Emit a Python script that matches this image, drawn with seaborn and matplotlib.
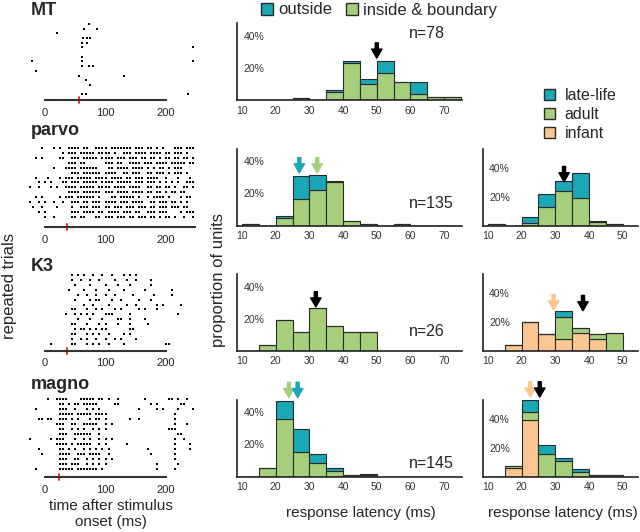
import numpy as np
import pandas as pd
import seaborn as sns
import matplotlib.pyplot as plt
from matplotlib.patches import Patch

# ---------------- raster data (rows listed top to bottom) ----------------
# MT: spike times (ms) per trial
mt_trials = [[73], [65, 86], [20], [63, 70, 74], [61, 69], [61, 245], [], [61],
             [-21, 61, 245], [61, 73, 80], [-15], [56, 131], [67], [75], [],
             [61, 67, 237]]
# parvo / magno: one char per 5 ms bin starting at -25 ms, "x" = spike
parvo_trials = [
    "....x...x. x..xxxx.xx ..xxxx.xxx xxxx.xxx.x x.x.x...xx x.xxx",
    ".......... .x.xxx.xxx xx.xxxx.x. .xxx.xxxx. xxxx.xx.xx x.x..",
    "..x.x..... xx..xxx.xx xxx.xxxx.x xx.xxx.xx. xx.x.xx.xx .xx.x",
    ".......... ...xxx.xx. .....xxx.x x..xxxx.xx x.xxxx.xxx xx.xx",
    "........x. ..xxxx.xxx xxx...xx.x xxx.xxxx.x .x.xx.x.xx x....",
    ".......... ....xxx.xx xxxx.xxxx. .xx.xxx..x x.xxx.x.xx x.x..",
    "..x...x... x.xxx.xxxx x.xxxx.xxx x.xx.xxx.x xxx..x...x ...x.",
    "...x.x.x.. .xx.xxx.xx xxx.xxxx.x xxxx.xxx.x xx.x.x.x.x ..xxx",
    "x..x...x.x ..xxxx.xxx xx.xxxx.xx xx.xxxx..x x.xx.xx.x. .xx.x",
    ".......... ...xxxx.xx xxxx.xxx.x xxx.xxxx.x x.xx.x.xx. xx...",
    "..x.x..... x.xxx.xxxx xx.x...xx. xxxxx.x..x .xxxx.x... x.xx.",
    "x..x.x..x. .x..xxx.xx .xxx.xxxx. xxx.xxxx.. xx.xxx.xx. x.x..",
    ".x..x....x ....x..xxx .xxx.xx.xx x.xxx.xxx. xx.xxx.xxx .xx..",
    "...x.x.... ....xxx.xx xx.xx.xxxx .xxx.xx..x xx.xxx.... x.xxx",
    ".....x..x. ....xx.xx. ..xx.xxx.x xx.xx.xxx. xx.x.xx.x. .x..x",
]
k3_trials = [[45, 55, 65, 80, 95, 110, 130, 140, 150],
             [45, 60, 75, 90, 115, 135, 150, 175],
             [50, 75, 100, 120, 140, 175],
             [40, 65, 85, 105, 130, 165, 210],
             [55, 70, 85, 100, 115, 145, 180, 210],
             [50, 75, 85, 90, 110, 125, 155, 175],
             [65, 80, 105, 135, 150, 185, 195, 225],
             [45, 50, 70, 85, 95, 115, 125, 155, 165, 185],
             [35, 50, 60, 70, 80, 100, 105, 110, 140, 220],
             [55, 75, 95, 120, 125, 140, 165],
             [45, 50, 70, 90, 100, 120, 140, 170],
             [50, 60, 65, 75, 85, 95, 100, 140, 145],
             [45, 50, 70, 80, 90, 105, 130, 140],
             [45, 60, 70, 85, 100, 115, 125, 150],
             [10, 45, 50, 70, 80, 90, 105, 130, 200, 205]]
magno_trials = [
    "......x..x xxx....xxx xx.xx.x..x ........x. ......xx.x ..x..",
    ".......... xx.x.xx.xx xxx.....xx .......... x.x....... xx...",
    "..x....... xxx..x...x .x.x...... ......x... ..x.x....x ....x",
    ".......... xxxxx.xxxx x.xxxx.... .......... ........x. .....",
    "...xx.xx.. xxx.x.x... x.xx.x.... ...x..x... ........x. .....",
    ".........x xx..xx..xx xxx..x.x.. .......... ........x. ..x..",
    ".......... xx..x.x.x. .x.x.x.... .......... ......xxx. .....",
    ".......... xxx..xxxxx x..x...... .......... .........x x....",
    "x......x.x xx...x..x. x..x.x.x.. .......... ........x. .x...",
    ".........x xxx.x.xxxx x..x.x.... ..x....... ........x. ...x.",
    "...x...... xx.x.x..x. x.x.x.x... .........x ........x. ...x.",
    "....x..... xxxx..xxx. xxxx..x... .......... x.......x. .....",
    ".......... xxx..xx..x .x.x.x.x.. .......... ........x. .....",
    ".......... xxx.xxx..x .x.x.x.... .......... ..x......x .....",
    "..x....... xxxxx.xxxx xxx.x..... .......... ..x.....x. .....",
]
latency = {"MT": 56, "parvo": 36, "K3": 36, "magno": 24}

# ---------------- histogram data (% of units per 5 ms bin) ----------------
bins_wide = [10, 15, 20, 25, 30, 35, 40, 45, 50, 55, 60, 65, 70]
mt_inside = [0, 0, 0, 1.1, 0, 4.8, 22.9, 9.8, 16.7, 11.5, 3.5, 2.1, 2.1]
mt_outside = [0, 0, 0, 0, 0, 1.45, 1.5, 3.1, 7.7, 0, 8.0, 0, 0]
parvo_inside = [0.7, 0, 4.5, 16.5, 22.4, 27.2, 2.5, 0.7, 0, 0.7, 0, 0, 0]
parvo_outside = [0, 0, 1.7, 14.4, 9.3, 0.8, 0.6, 0, 0, 0, 0, 0, 0]
k3_inside = [0, 3.85, 19.2, 11.5, 26.9, 15.4, 11.5, 11.5, 0, 0, 0, 0, 0]
k3_outside = [0] * 13
magno_inside = [0, 5.1, 36, 15, 8.6, 3.7, 0.7, 0.7, 0, 0, 0, 0, 0]
magno_outside = [0, 0, 11.3, 14.4, 5.2, 1.4, 0, 0.7, 0, 0, 0, 0, 0]

bins_age = [10, 15, 20, 25, 30, 35, 40, 45]
parvo_infant = [0, 0, 0, 0, 0, 0, 0, 0]
parvo_adult = [0.7, 0, 1.6, 12.7, 24.1, 19, 2.1, 0.7]
parvo_late = [0, 0, 4.65, 9.3, 6.5, 17.6, 0.7, 0]
k3_infant = [0, 3.9, 19.7, 11.6, 7.9, 12, 7.9, 0]
k3_adult = [0, 0, 0, 0, 15.7, 3.5, 3.7, 12]
k3_late = [0, 0, 0, 0, 4.2, 0, 0, 0]
magno_infant = [0, 5.8, 39.4, 0, 0, 0, 0, 0]
magno_adult = [0, 1.4, 5.3, 15.7, 11.1, 3.0, 0.7, 0.7]
magno_late = [0, 0, 8.6, 6.5, 1.6, 2.3, 0, 0]

n_units = {"MT": 78, "parvo": 135, "K3": 26, "magno": 145}

TEAL = "#1aa7b6"
GREEN = "#a6cf7c"
ORANGE = "#fbc690"
EDGE = "#2a2a2a"

# median-latency arrows: (latency ms, tip height %, colour)
arrows_wide = {"MT": [(50, 26.1, "black")],
               "parvo": [(27, 32.8, TEAL), (32.3, 32.8, GREEN)],
               "K3": [(31.9, 27.3, "black")],
               "magno": [(23.9, 49.2, GREEN), (26.5, 49.2, TEAL)]}
arrows_age = {"parvo": [(32.6, 30.4, "black")],
              "K3": [(29.5, 28.3, ORANGE), (38.2, 27.8, "black")],
              "magno": [(22.6, 55.2, ORANGE), (25.4, 55.2, "black")]}

sns.set_style("white")
plt.rcParams["font.family"] = ["Liberation Sans", "DejaVu Sans"]

W, HF = 640, 532
fig = plt.figure(figsize=(W / 100, HF / 100), dpi=100)


def px_axes(x0, x1, ybot, h):
    return fig.add_axes([x0 / W, 1 - ybot / HF, (x1 - x0) / W, h / HF])


def spike_times(row):
    if isinstance(row, str):
        row = row.replace(" ", "")
        return [-25 + 5 * i for i, c in enumerate(row) if c == "x"]
    return row


def raster(name, trials, spine_y, spacing, offset, end):
    ax = px_axes(28, 200, spine_y, 84)
    n = len(trials)
    recs = []
    for k, row in enumerate(trials):
        for t in spike_times(row):
            recs.append((t, n - 1 - k))
    df = pd.DataFrame(recs, columns=["time", "trial"])
    sns.scatterplot(df, x="time", y="trial", color="black", marker="s", s=2.0,
                    linewidth=0, ax=ax)
    ax.set_xlim(-28, 256)
    ax.set_ylim(-offset, -offset + 84 / spacing)
    ax.set(xlabel="", ylabel="", yticks=[])
    for s in ["left", "top", "right"]:
        ax.spines[s].set_visible(False)
    ax.spines["bottom"].set_bounds(0, end)
    ax.spines["bottom"].set_color("#333333")
    ax.spines["bottom"].set_linewidth(1.5)
    ax.set_xticks([0, 100, 200])
    ax.tick_params(axis="x", direction="inout", length=6, width=1.3,
                   labelsize=8, pad=2.5, colors="#222222")
    ax.axvline(latency[name], ymin=-0.035, ymax=0.035, color="#e8302a",
               lw=1.4, clip_on=False)
    ax.patch.set_alpha(0)
    return ax


def hist(x0, x1, ybot, lefts, groups, colors, bin_end, xmax, ymax, arrows):
    ax = px_axes(x0, x1, ybot, 77)
    frames = [pd.DataFrame({"latency": np.array(lefts) + 2.5, "pct": vals,
                            "group": g}) for g, vals in groups.items()]
    df = pd.concat(frames, ignore_index=True)
    order = list(groups.keys())
    sns.histplot(df, x="latency", weights="pct", hue="group", hue_order=order,
                 multiple="stack", bins=list(range(10, bin_end + 1, 5)),
                 palette=dict(zip(order, colors)), alpha=1, edgecolor=EDGE,
                 linewidth=0.8, legend=False, ax=ax)
    ax.set_xlim(8.5, xmax)
    ax.set_ylim(0, ymax)
    ax.set(xlabel="", ylabel="")
    sns.despine(ax=ax)
    for s in ["left", "bottom"]:
        ax.spines[s].set_color("#222222")
        ax.spines[s].set_linewidth(1.2)
    ax.set_xticks(range(10, bin_end, 10) if bin_end > 50 else range(10, 51, 10))
    ax.set_xticks(range(15, bin_end + 1, 10), minor=True)
    ax.tick_params(axis="x", which="both", direction="inout", length=5,
                   width=1, labelsize=7.5, pad=1.5, colors="#333333")
    ax.set_yticks([20, 40])
    ax.set_yticks([10, 30], minor=True)
    ax.set_yticklabels(["20%", "40%"])
    ax.tick_params(axis="y", which="both", direction="in", length=3.5,
                   width=1, labelsize=7.5, pad=-4.5, colors="#333333")
    for t in ax.get_yticklabels():
        t.set_horizontalalignment("left")
    for x, tip, c in arrows:
        ax.annotate("", xy=(x, tip), xytext=(0, 11), textcoords="offset points",
                    annotation_clip=False,
                    arrowprops=dict(color=c, width=2.2, headwidth=7.5,
                                    headlength=6.5, shrink=0))
    ax.patch.set_alpha(0)
    return ax


names = ["MT", "parvo", "K3", "magno"]
trials = [mt_trials, parvo_trials, k3_trials, magno_trials]
raster_layout = [(100, 4.69, 1.22, 200), (227, 4.93, 2.03, 248),
                 (350.7, 4.93, 1.36, 200), (477.3, 5.0, 1.6, 200)]
wide = [(mt_outside, mt_inside), (parvo_outside, parvo_inside),
        (k3_outside, k3_inside), (magno_outside, magno_inside)]
age = [None, (parvo_late, parvo_adult, parvo_infant),
       (k3_late, k3_adult, k3_infant), (magno_late, magno_adult, magno_infant)]
base = [100, 225.5, 350.7, 476.5]
label_base = [15, 135, 271, 389]
n_pos = [41.6, 14, 11.8, 7.8]

for i, name in enumerate(names):
    spine_y, sp, off, end = raster_layout[i]
    raster(name, trials[i], spine_y, sp, off, end)
    fig.text(31 / W, 1 - label_base[i] / HF, name, fontsize=13,
             fontweight="bold", va="baseline", ha="left")

    out, ins = wide[i]
    ax = hist(237, 462, base[i], bins_wide,
              {"outside": out, "inside & boundary": ins}, [TEAL, GREEN],
              75, 75.3, 48, arrows_wide[name])
    ax.text(59.6, n_pos[i], f"n={n_units[name]}", fontsize=11.5, va="center")

    if age[i] is not None:
        late, adult, infant = age[i]
        hist(482.7, 638, base[i], bins_age,
             {"late-life": late, "adult": adult, "infant": infant},
             [TEAL, GREEN, ORANGE], 50, 54.5, 53.5, arrows_age[name])

# legends
fig.legend(handles=[Patch(facecolor=TEAL, edgecolor=EDGE, lw=1, label="outside"),
                    Patch(facecolor=GREEN, edgecolor=EDGE, lw=1,
                          label="inside & boundary")],
           loc="center left", bbox_to_anchor=(261 / W, 1 - 10 / HF), ncol=2,
           frameon=False, fontsize=12, handlelength=0.7, handleheight=0.7,
           handletextpad=0.35, columnspacing=0.8, borderpad=0, borderaxespad=0)
fig.legend(handles=[Patch(facecolor=TEAL, edgecolor=EDGE, lw=1, label="late-life"),
                    Patch(facecolor=GREEN, edgecolor=EDGE, lw=1, label="adult"),
                    Patch(facecolor=ORANGE, edgecolor=EDGE, lw=1, label="infant")],
           loc="upper left", bbox_to_anchor=(544 / W, 1 - 88 / HF),
           frameon=False, fontsize=11.5, handlelength=0.7, handleheight=0.7,
           handletextpad=0.6, labelspacing=0.25, borderpad=0, borderaxespad=0)

# axis titles
fig.text(10 / W, 1 - 286 / HF, "repeated trials", rotation=90, fontsize=12,
         ha="center", va="center")
fig.text(219 / W, 1 - 280 / HF, "proportion of units", rotation=90, fontsize=12,
         ha="center", va="center")
fig.text(361 / W, 1 - 513 / HF, "response latency (ms)", fontsize=11,
         ha="center", va="center")
fig.text(563 / W, 1 - 513 / HF, "response latency (ms)", fontsize=11,
         ha="center", va="center")
fig.text(111 / W, 1 - 514 / HF, "time after stimulus\nonset (ms)", fontsize=11,
         ha="center", va="center", linespacing=1.25)

fig.savefig("out.png", dpi=100)
